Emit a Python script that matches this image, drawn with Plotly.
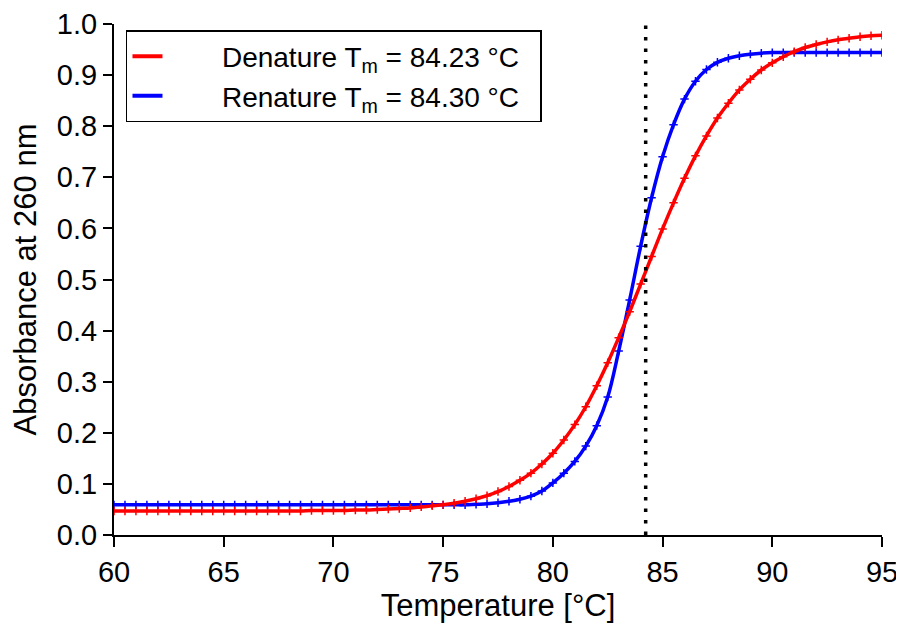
import plotly.graph_objects as go

# Temperatures (°C), 0.5 °C steps from 60 to 95
temperature = [60 + 0.5 * i for i in range(71)]

# Denature curve (absorbance at 260 nm)
denature = [
    0.047, 0.047, 0.047, 0.047, 0.047, 0.047, 0.047, 0.047, 0.047, 0.047,  # 60.0-64.5
    0.047, 0.047, 0.047, 0.047, 0.047, 0.047, 0.047, 0.047, 0.048, 0.048,  # 65.0-69.5
    0.048, 0.048, 0.049, 0.049, 0.050, 0.051, 0.052, 0.053, 0.055, 0.057,  # 70.0-74.5
    0.059, 0.062, 0.066, 0.071, 0.077, 0.085, 0.095, 0.107, 0.121, 0.139,  # 75.0-79.5
    0.160, 0.186, 0.216, 0.251, 0.292, 0.337, 0.386, 0.437, 0.491, 0.545,  # 80.0-84.5
    0.599, 0.650, 0.698, 0.742, 0.781, 0.816, 0.845, 0.871, 0.892, 0.910,  # 85.0-89.5
    0.924, 0.936, 0.946, 0.954, 0.960, 0.965, 0.969, 0.972, 0.975, 0.977,  # 90.0-94.5
    0.978,                                                                 # 95.0
]

# Renature curve (absorbance at 260 nm)
renature = [
    0.059, 0.059, 0.059, 0.059, 0.059, 0.059, 0.059, 0.059, 0.059, 0.059,  # 60.0-64.5
    0.059, 0.059, 0.059, 0.059, 0.059, 0.059, 0.059, 0.059, 0.059, 0.059,  # 65.0-69.5
    0.059, 0.059, 0.059, 0.059, 0.059, 0.059, 0.059, 0.059, 0.059, 0.059,  # 70.0-74.5
    0.059, 0.059, 0.059, 0.060, 0.061, 0.063, 0.066, 0.070, 0.076, 0.086,  # 75.0-79.5
    0.102, 0.121, 0.144, 0.174, 0.214, 0.270, 0.360, 0.460, 0.565, 0.660,  # 80.0-84.5
    0.740, 0.803, 0.853, 0.888, 0.911, 0.925, 0.933, 0.938, 0.941, 0.943,  # 85.0-89.5
    0.944, 0.944, 0.944, 0.944, 0.944, 0.944, 0.944, 0.944, 0.944, 0.944,  # 90.0-94.5
    0.944,                                                                 # 95.0
]

tm_denature = 84.23
tm_renature = 84.30

x_ticks = [60, 65, 70, 75, 80, 85, 90, 95]
y_ticks = [0.0, 0.1, 0.2, 0.3, 0.4, 0.5, 0.6, 0.7, 0.8, 0.9, 1.0]
y_tick_labels = ["0.0", "0.1", "0.2", "0.3", "0.4", "0.5", "0.6", "0.7", "0.8", "0.9", "1.0"]

RED = "#ff0000"
BLUE = "#0000ff"
FONT = "Liberation Sans, Arial, sans-serif"

fig = go.Figure()

fig.add_vline(x=tm_denature, line=dict(color="black", width=3.5, dash="3.5px,8px"))

fig.add_trace(go.Scatter(
    x=temperature, y=renature, mode="lines+markers", showlegend=False,
    line=dict(color=BLUE, width=3.5, shape="spline"),
    marker=dict(symbol="cross-thin", size=6, line=dict(color=BLUE, width=1.5)),
))
fig.add_trace(go.Scatter(
    x=temperature, y=denature, mode="lines+markers", showlegend=False,
    line=dict(color=RED, width=3.5, shape="spline"),
    marker=dict(symbol="cross-thin", size=6, line=dict(color=RED, width=1.5)),
))

pad = "\u00a0" * 7
tail = "\u00a0" * 2
fig.add_trace(go.Scatter(
    x=[None], y=[None], mode="lines", line=dict(color=RED, width=4),
    name=f"{pad}Denature T<sub>m</sub> = {tm_denature:.2f} °C{tail}",
))
fig.add_trace(go.Scatter(
    x=[None], y=[None], mode="lines", line=dict(color=BLUE, width=4),
    name=f"{pad}Renature T<sub>m</sub> = {tm_renature:.2f} °C{tail}",
))

fig.update_layout(
    width=896, height=625,
    margin=dict(l=106, r=22, t=16, b=98, autoexpand=False),
    paper_bgcolor="white", plot_bgcolor="white",
    font=dict(family=FONT, color="black", size=29),
    legend=dict(
        x=0.0156, y=0.988, xanchor="left", yanchor="top",
        bgcolor="white", bordercolor="black", borderwidth=1.5,
        font=dict(size=28, family=FONT, color="black"),
        tracegroupgap=0,
    ),
    xaxis=dict(
        range=[60, 95], tickvals=x_ticks, ticktext=[str(v) for v in x_ticks],
        showgrid=False, zeroline=False, showline=True, linecolor="black", linewidth=2,
        ticks="outside", ticklen=10, tickwidth=2, tickcolor="black",
        tickfont=dict(size=29, family=FONT), automargin=False, ticklabeloverflow="allow",
        title=dict(text="Temperature [°C]", font=dict(size=31, family=FONT), standoff=2),
    ),
    yaxis=dict(
        range=[0, 1.0], tickvals=y_ticks, ticktext=y_tick_labels,
        showgrid=False, zeroline=False, showline=True, linecolor="black", linewidth=2,
        ticks="outside", ticklen=9, tickwidth=2, tickcolor="black",
        tickfont=dict(size=29, family=FONT), automargin=False, ticklabeloverflow="allow",
        title=dict(text="Absorbance at 260 nm", font=dict(size=31, family=FONT), standoff=15),
    ),
)

fig.write_html("out.html")
